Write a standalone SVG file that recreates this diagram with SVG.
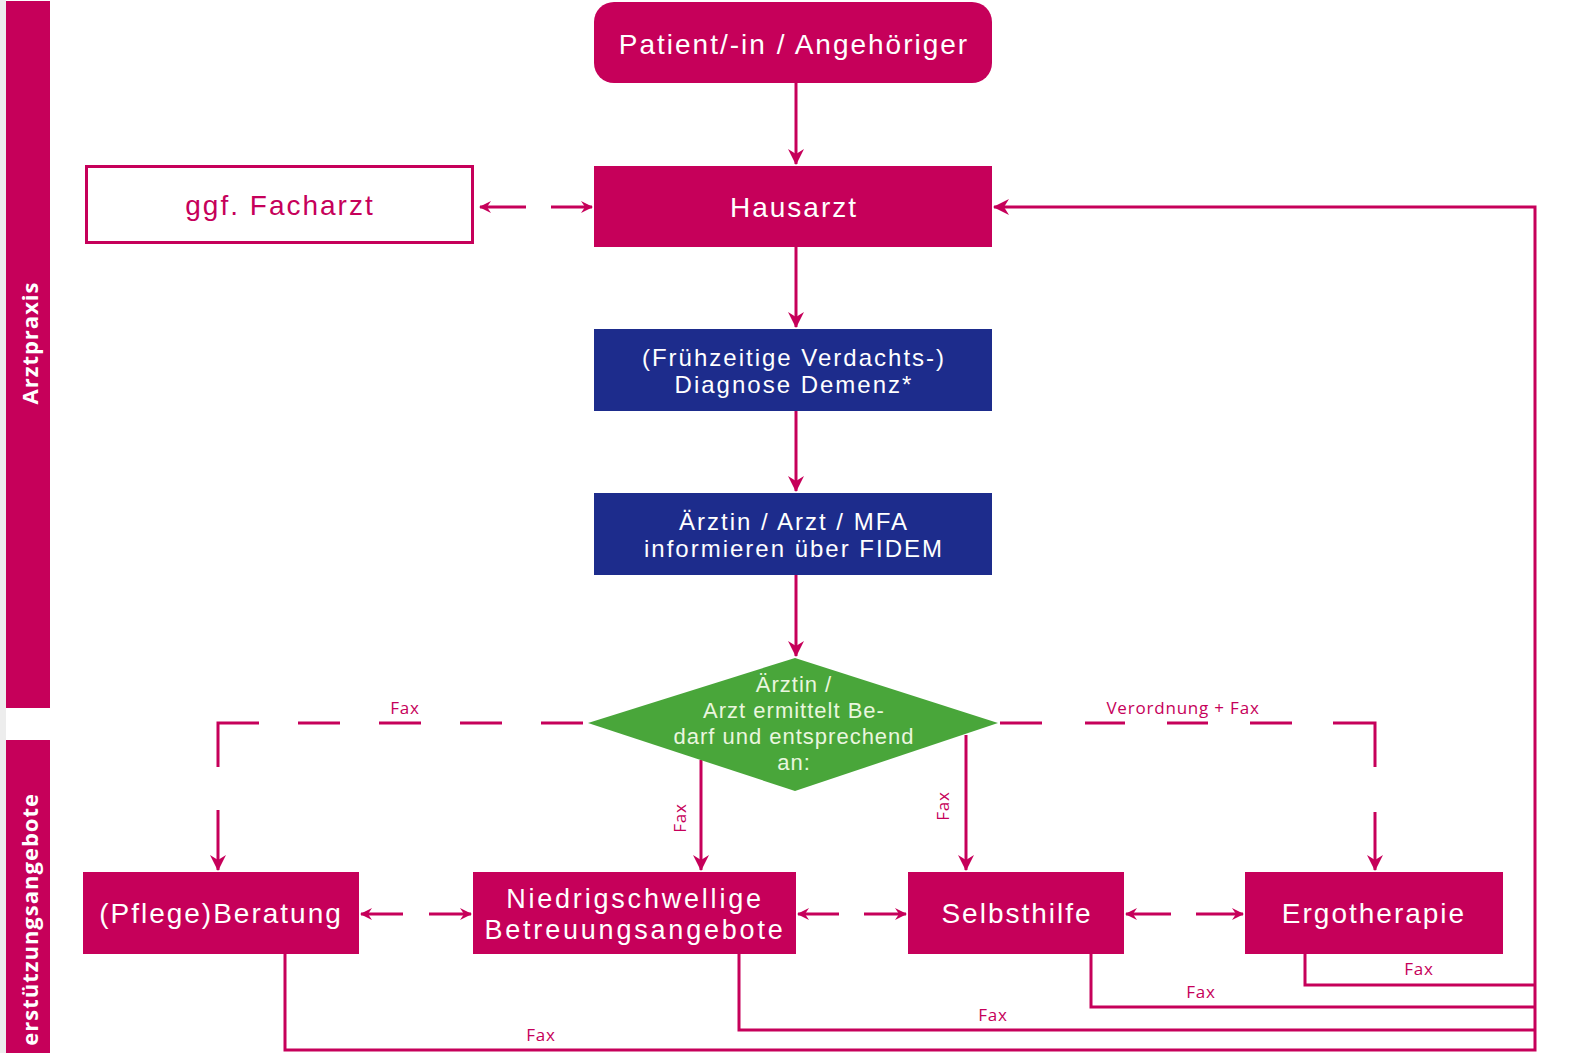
<svg xmlns="http://www.w3.org/2000/svg" width="1576" height="1053" viewBox="0 0 1576 1053">
<defs>
<style>
.mag{fill:#C6005A}
.blue{fill:#1D2C8C}
.t{font-family:"Liberation Sans",Arial,sans-serif;fill:#FFFFFF;text-anchor:middle}
.big{font-size:28px;letter-spacing:2px}
.two{font-size:24px;letter-spacing:2px}
.two2{font-size:27px;letter-spacing:2.8px}
.dia{font-size:22px;letter-spacing:1px;fill:#EAF6DF}
.lbl{font-family:"Open Sans","Liberation Sans",sans-serif;fill:#C6005A;font-size:17px;letter-spacing:0.8px;text-anchor:middle}
.side{font-family:"Open Sans","Liberation Sans",sans-serif;fill:#FFFFFF;font-size:22px;font-weight:bold;letter-spacing:1px}
.ln{stroke:#C6005A;stroke-width:3;fill:none}
</style>
<marker id="ah" viewBox="0 0 12 12" refX="11" refY="6" markerWidth="12" markerHeight="12" markerUnits="userSpaceOnUse" orient="auto">
<path d="M0,0 L12,6 L0,12 L4,6 Z" fill="#C6005A"/>
</marker>
<marker id="ah2" viewBox="0 0 16 16" refX="15" refY="8" markerWidth="16" markerHeight="16" markerUnits="userSpaceOnUse" orient="auto">
<path d="M0,0 L16,8 L0,16 L5,8 Z" fill="#C6005A"/>
</marker>
</defs>
<rect x="0" y="0" width="1576" height="1053" fill="#FFFFFF"/>
<rect x="0" y="0" width="6" height="1053" fill="#EDEDED"/>

<g id="lane-arztpraxis">
<rect x="6" y="1" width="44" height="707" class="mag"/>
<text class="side" transform="translate(38,343) rotate(-90)" text-anchor="middle">Arztpraxis</text>
</g>
<g id="lane-unterstuetzung">
<rect x="6" y="740" width="44" height="313" class="mag"/>
<text class="side" transform="translate(38,793) rotate(-90)" text-anchor="end">erstützungsangebote</text>
</g>

<g id="connectors">
<path class="ln" d="M796,83 V164" marker-end="url(#ah2)"/>
<path class="ln" d="M796,247 V327" marker-end="url(#ah2)"/>
<path class="ln" d="M796,411 V491" marker-end="url(#ah2)"/>
<path class="ln" d="M796,575 V656" marker-end="url(#ah2)"/>
<path class="ln" d="M526,207 H480" marker-end="url(#ah)"/>
<path class="ln" d="M551,207 H592" marker-end="url(#ah)"/>
<path class="ln" d="M403,914 H361" marker-end="url(#ah)"/>
<path class="ln" d="M429,914 H471" marker-end="url(#ah)"/>
<path class="ln" d="M839,914 H798" marker-end="url(#ah)"/>
<path class="ln" d="M864,914 H906" marker-end="url(#ah)"/>
<path class="ln" d="M1171,914 H1126" marker-end="url(#ah)"/>
<path class="ln" d="M1196,914 H1243" marker-end="url(#ah)"/>
<path class="ln" d="M218,767 V723 H259 M298,723 H340 M379,723 H421 M460,723 H502 M541,723 H583"/>
<path class="ln" d="M218,810 V870" marker-end="url(#ah2)"/>
<path class="ln" d="M1000,723 H1042 M1085,723 H1125 M1167,723 H1208 M1250,723 H1292 M1333,723 H1375 V767"/>
<path class="ln" d="M1375,812 V870" marker-end="url(#ah2)"/>
<path class="ln" d="M701,760 V870" marker-end="url(#ah2)"/>
<path class="ln" d="M966,735 V870" marker-end="url(#ah2)"/>
<path class="ln" d="M1305,954 V985 H1535 M1091,954 V1007 H1535 M739,954 V1030 H1535 M285,954 V1050 H1535 V207 H994" marker-end="url(#ah2)"/>
<text class="lbl" x="405" y="714">Fax</text>
<text class="lbl" x="1183" y="714">Verordnung + Fax</text>
<text class="lbl" transform="translate(686,818) rotate(-90)">Fax</text>
<text class="lbl" transform="translate(949,806) rotate(-90)">Fax</text>
<text class="lbl" x="1419" y="975">Fax</text>
<text class="lbl" x="1201" y="998">Fax</text>
<text class="lbl" x="993" y="1021">Fax</text>
<text class="lbl" x="541" y="1041">Fax</text>
</g>

<g id="node-patient">
<rect x="594" y="2" width="398" height="81" rx="20" class="mag"/>
<text class="t big" x="794" y="54">Patient/-in / Angehöriger</text>
</g>
<g id="node-hausarzt">
<rect x="594" y="166" width="398" height="81" class="mag"/>
<text class="t big" x="794" y="217">Hausarzt</text>
</g>
<g id="node-facharzt">
<rect x="86.5" y="166.5" width="386" height="76" fill="#FFFFFF" stroke="#C6005A" stroke-width="3"/>
<text class="t big" x="280" y="215" style="fill:#C6005A">ggf. Facharzt</text>
</g>
<g id="node-diagnose">
<rect x="594" y="329" width="398" height="82" class="blue"/>
<text class="t two" x="794" y="366">(Frühzeitige Verdachts-)</text>
<text class="t two" x="794" y="393">Diagnose Demenz*</text>
</g>
<g id="node-informieren">
<rect x="594" y="493" width="398" height="82" class="blue"/>
<text class="t two" x="794" y="530">Ärztin / Arzt / MFA</text>
<text class="t two" x="794" y="557">informieren über FIDEM</text>
</g>
<g id="node-entscheidung">
<polygon points="588,723 795,658 998,723 795,791" fill="#49A63A"/>
<text class="t dia" x="794" y="692">Ärztin /</text>
<text class="t dia" x="794" y="718">Arzt ermittelt Be-</text>
<text class="t dia" x="794" y="744">darf und entsprechend</text>
<text class="t dia" x="794" y="770">an:</text>
</g>
<g id="node-pflegeberatung">
<rect x="83" y="872" width="276" height="82" class="mag"/>
<text class="t big" x="221" y="923">(Pflege)Beratung</text>
</g>
<g id="node-niedrigschwellig">
<rect x="473" y="872" width="323" height="82" class="mag"/>
<text class="t two2" x="635" y="908">Niedrigschwellige</text>
<text class="t two2" x="635" y="939">Betreuungsangebote</text>
</g>
<g id="node-selbsthilfe">
<rect x="908" y="872" width="216" height="82" class="mag"/>
<text class="t big" x="1017" y="923">Selbsthilfe</text>
</g>
<g id="node-ergotherapie">
<rect x="1245" y="872" width="258" height="82" class="mag"/>
<text class="t big" x="1374" y="923">Ergotherapie</text>
</g>
</svg>
